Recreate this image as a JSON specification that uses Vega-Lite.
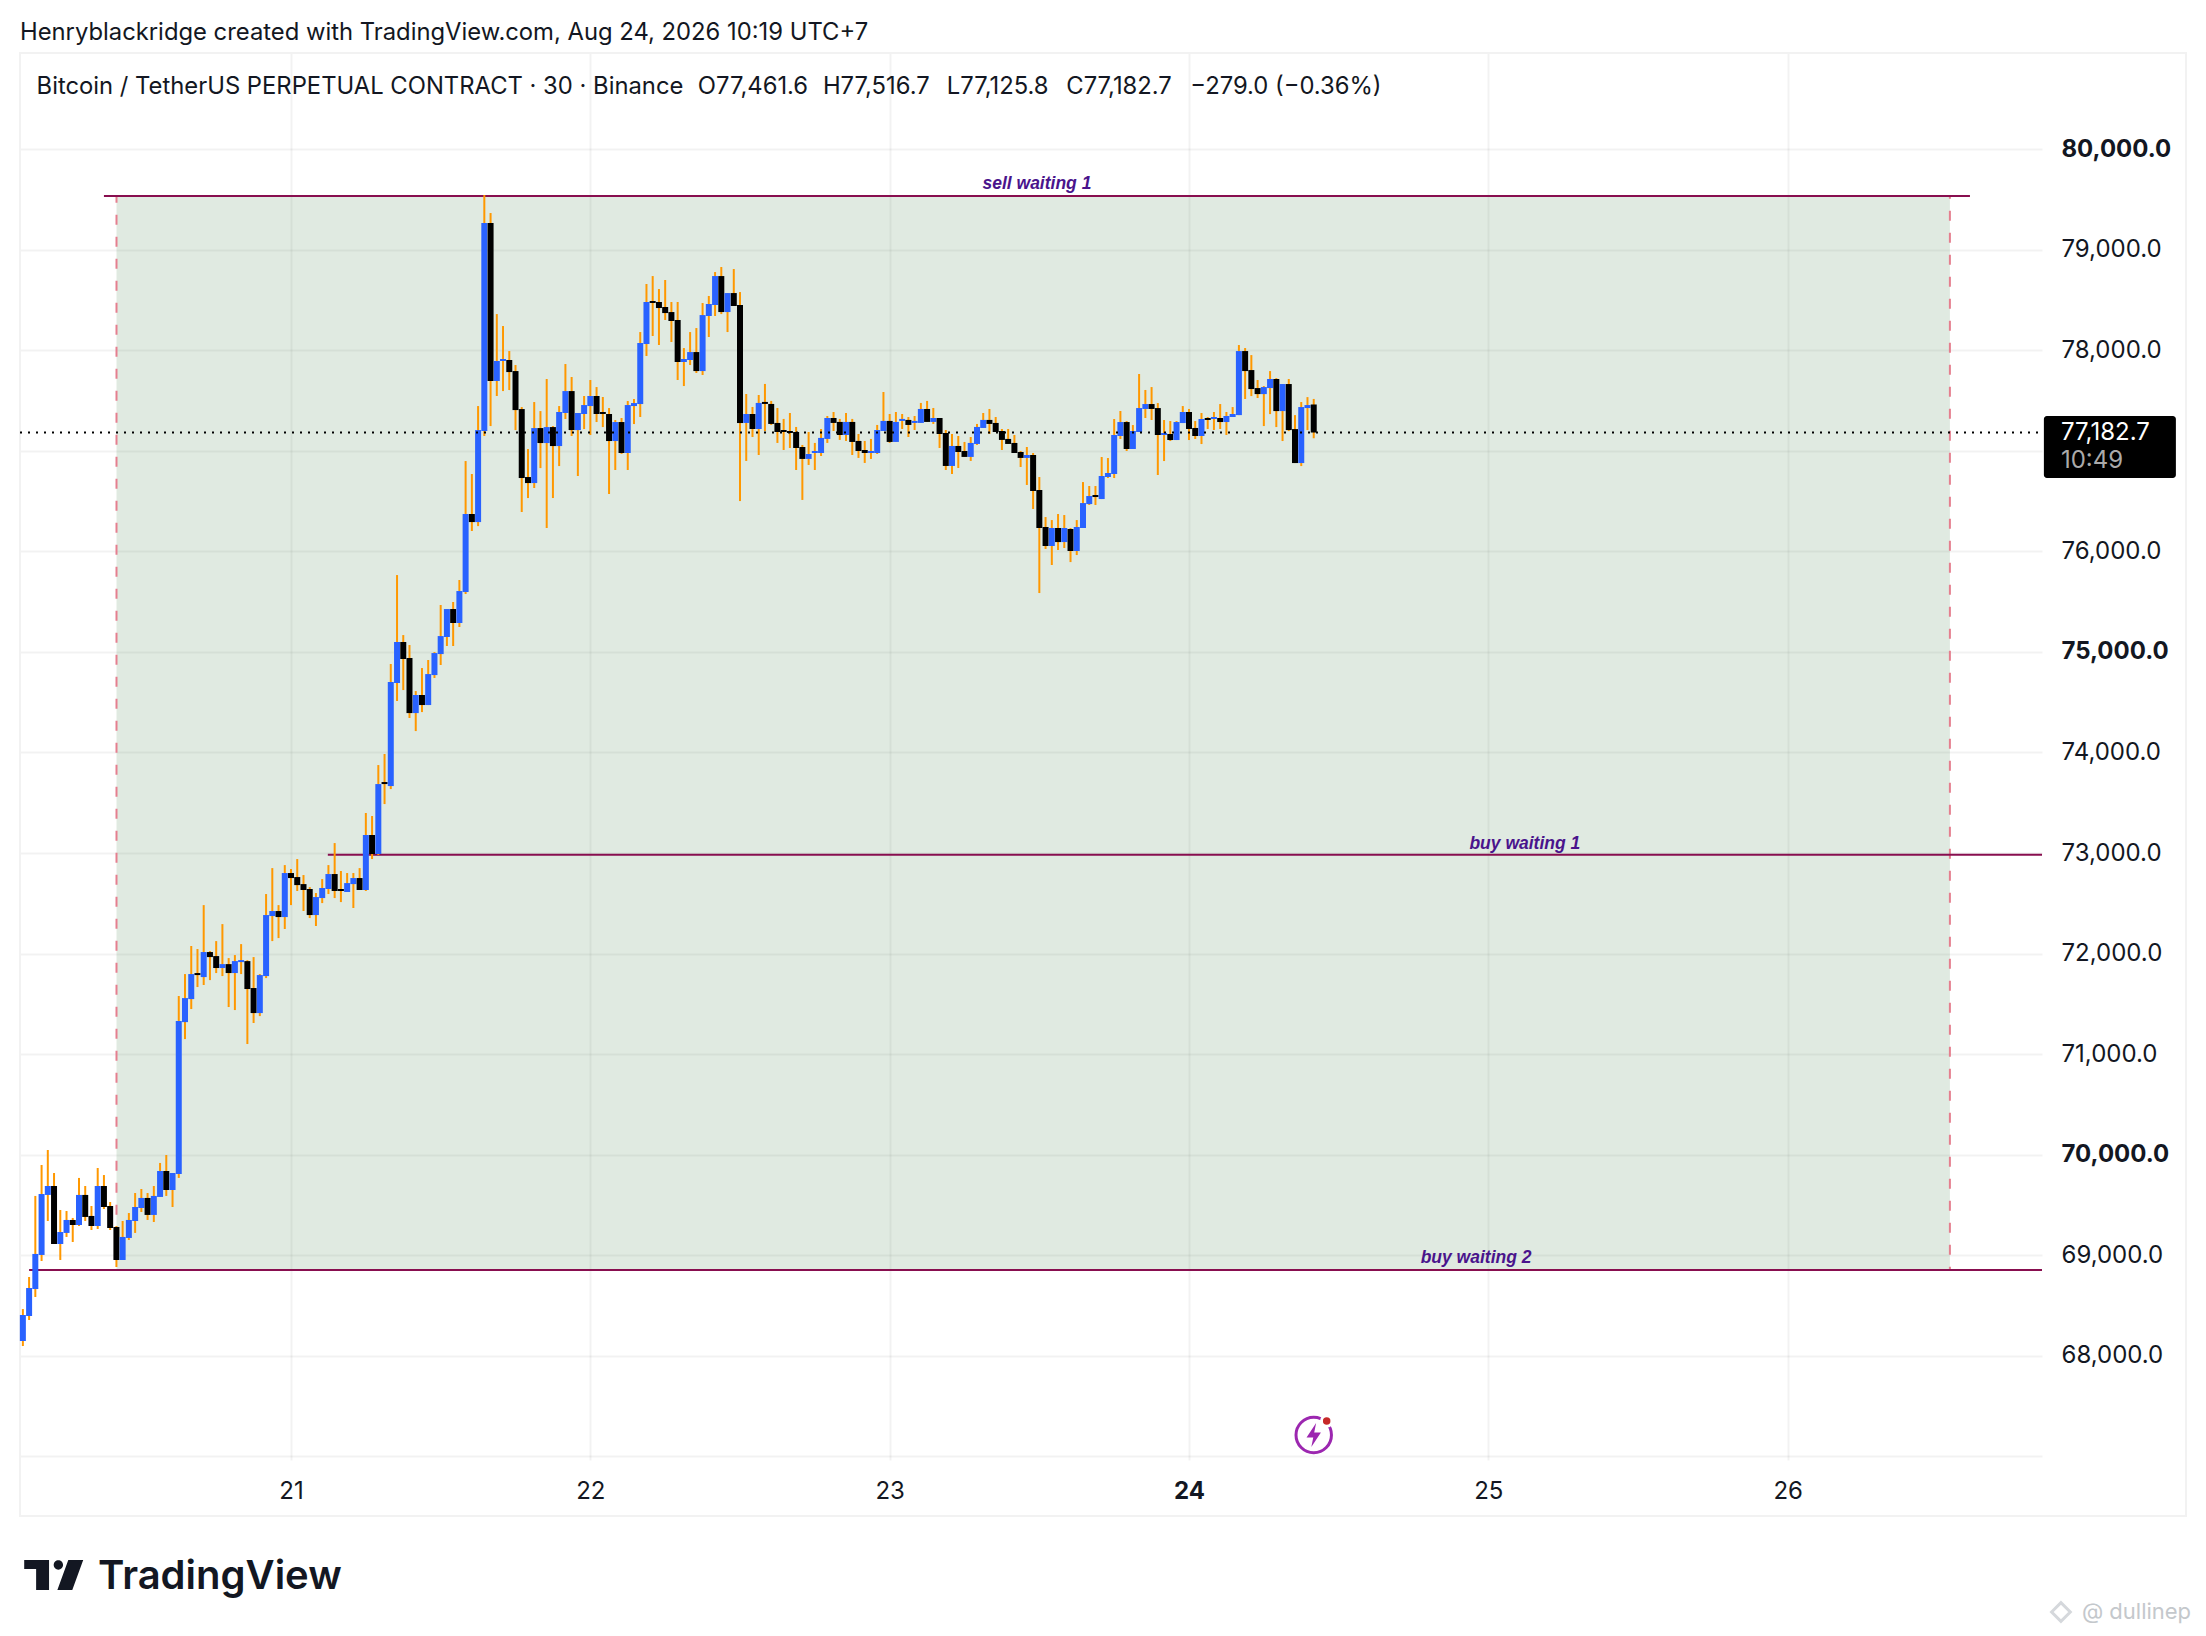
{"$schema":"https://vega.github.io/schema/vega-lite/v6.json","width":2022,"height":1407,"autosize":{"type":"none"},"padding":{"left":20,"top":53,"right":164,"bottom":176},"background":"#ffffff","view":{"stroke":null},
"config":{"axis":{"domain":false,"ticks":false,"gridColor":"#000000","gridOpacity":0.05,"gridWidth":2,"labelFont":"Inter","labelFontSize":24,"labelColor":"#131722","labelOverlap":false,"labelBound":false,"labelFlush":false},"text":{"font":"Inter","color":"#131722"}},
"datasets":{
"frame":[{"from":20.0946,"to":27.331,"top":80958,"bottom":66405}],
"zone":[{"from":20.417,"to":26.542,"top":79535,"bottom":68852}],
"levels":[{"name":"sell waiting 1","from":20.375,"to":26.609,"price":79535,"labelDay":23.492,"labelPrice":79655},{"name":"buy waiting 1","from":21.123,"to":26.8497,"price":72984,"labelDay":25.122,"labelPrice":73090},{"name":"buy waiting 2","from":20.125,"to":26.8497,"price":68852,"labelDay":24.959,"labelPrice":68972}],
"last":[{"from":20.0946,"to":26.8497,"price":77182.7}],
"tag":[{"from":26.856,"to":27.297,"top":77347,"bottom":76730}],
"header":[{"txt":"Henryblackridge created with TradingView.com, Aug 24, 2026 10:19 UTC+7","day":20.0946,"price":81157}],
"legend":[{"txt":"Bitcoin / TetherUS PERPETUAL CONTRACT · 30 · Binance","day":20.15,"price":80620},{"txt":"O77,461.6","day":22.359,"price":80620},{"txt":"H77,516.7","day":22.777,"price":80620},{"txt":"L77,125.8","day":23.191,"price":80620},{"txt":"C77,182.7","day":23.59,"price":80620},{"txt":"−279.0 (−0.36%)","day":24.004,"price":80620}],
"candles":[
{"day":20.1042,"open":68146,"high":68464,"low":68096,"close":68405},
{"day":20.125,"open":68395,"high":68783,"low":68355,"close":68673},
{"day":20.1458,"open":68663,"high":69589,"low":68584,"close":69012},
{"day":20.1667,"open":69002,"high":69897,"low":68942,"close":69608},
{"day":20.1875,"open":69599,"high":70046,"low":69340,"close":69688},
{"day":20.2083,"open":69688,"high":69817,"low":69111,"close":69111},
{"day":20.2292,"open":69111,"high":69449,"low":68952,"close":69230},
{"day":20.25,"open":69221,"high":69439,"low":69181,"close":69350},
{"day":20.2708,"open":69350,"high":69370,"low":69131,"close":69300},
{"day":20.2917,"open":69300,"high":69768,"low":69290,"close":69599},
{"day":20.3125,"open":69599,"high":69688,"low":69340,"close":69380},
{"day":20.3333,"open":69390,"high":69489,"low":69250,"close":69290},
{"day":20.3542,"open":69290,"high":69867,"low":69260,"close":69688},
{"day":20.375,"open":69688,"high":69797,"low":69459,"close":69479},
{"day":20.3958,"open":69489,"high":69529,"low":69250,"close":69270},
{"day":20.4167,"open":69280,"high":69290,"low":68882,"close":68952},
{"day":20.4375,"open":68952,"high":69340,"low":68952,"close":69181},
{"day":20.4583,"open":69171,"high":69419,"low":69151,"close":69350},
{"day":20.4792,"open":69340,"high":69618,"low":69221,"close":69479},
{"day":20.5,"open":69469,"high":69658,"low":69429,"close":69569},
{"day":20.5208,"open":69569,"high":69618,"low":69350,"close":69400},
{"day":20.5417,"open":69400,"high":69688,"low":69330,"close":69589},
{"day":20.5625,"open":69579,"high":69917,"low":69579,"close":69837},
{"day":20.5833,"open":69837,"high":69996,"low":69589,"close":69648},
{"day":20.6042,"open":69648,"high":69817,"low":69479,"close":69817},
{"day":20.625,"open":69807,"high":71578,"low":69768,"close":71329},
{"day":20.6458,"open":71318,"high":71796,"low":71149,"close":71557},
{"day":20.6667,"open":71547,"high":72075,"low":71448,"close":71796},
{"day":20.6875,"open":71806,"high":72045,"low":71667,"close":71786},
{"day":20.7083,"open":71766,"high":72482,"low":71687,"close":72015},
{"day":20.7292,"open":72015,"high":72025,"low":71736,"close":71965},
{"day":20.75,"open":71975,"high":72124,"low":71806,"close":71856},
{"day":20.7708,"open":71856,"high":72293,"low":71776,"close":71895},
{"day":20.7917,"open":71895,"high":71955,"low":71468,"close":71806},
{"day":20.8125,"open":71806,"high":71985,"low":71438,"close":71925},
{"day":20.8333,"open":71915,"high":72094,"low":71796,"close":71935},
{"day":20.8542,"open":71925,"high":71935,"low":71100,"close":71647},
{"day":20.875,"open":71657,"high":71965,"low":71309,"close":71408},
{"day":20.8958,"open":71408,"high":71796,"low":71378,"close":71786},
{"day":20.9167,"open":71776,"high":72592,"low":71756,"close":72383},
{"day":20.9375,"open":72373,"high":72850,"low":72124,"close":72423},
{"day":20.9583,"open":72423,"high":72482,"low":72154,"close":72363},
{"day":20.9792,"open":72363,"high":72880,"low":72244,"close":72801},
{"day":21.0,"open":72801,"high":72841,"low":72482,"close":72751},
{"day":21.0208,"open":72761,"high":72940,"low":72622,"close":72681},
{"day":21.0417,"open":72691,"high":72781,"low":72423,"close":72632},
{"day":21.0625,"open":72642,"high":72661,"low":72353,"close":72383},
{"day":21.0833,"open":72383,"high":72602,"low":72274,"close":72562},
{"day":21.1042,"open":72552,"high":72741,"low":72502,"close":72652},
{"day":21.125,"open":72642,"high":72880,"low":72592,"close":72791},
{"day":21.1458,"open":72791,"high":73099,"low":72552,"close":72622},
{"day":21.1667,"open":72642,"high":72821,"low":72512,"close":72622},
{"day":21.1875,"open":72612,"high":72801,"low":72612,"close":72701},
{"day":21.2083,"open":72691,"high":72801,"low":72453,"close":72751},
{"day":21.2292,"open":72751,"high":72850,"low":72632,"close":72632},
{"day":21.25,"open":72632,"high":73398,"low":72622,"close":73179},
{"day":21.2708,"open":73179,"high":73368,"low":72940,"close":72990},
{"day":21.2917,"open":72990,"high":73875,"low":72980,"close":73686},
{"day":21.3125,"open":73706,"high":73985,"low":73487,"close":73686},
{"day":21.3333,"open":73666,"high":74880,"low":73636,"close":74701},
{"day":21.3542,"open":74691,"high":75765,"low":74512,"close":75099},
{"day":21.375,"open":75099,"high":75168,"low":74621,"close":74930},
{"day":21.3958,"open":74940,"high":75069,"low":74343,"close":74392},
{"day":21.4167,"open":74392,"high":74611,"low":74213,"close":74572},
{"day":21.4375,"open":74572,"high":74840,"low":74402,"close":74472},
{"day":21.4583,"open":74472,"high":74920,"low":74472,"close":74780},
{"day":21.4792,"open":74770,"high":74999,"low":74741,"close":74989},
{"day":21.5,"open":74979,"high":75467,"low":74870,"close":75158},
{"day":21.5208,"open":75149,"high":75427,"low":75059,"close":75427},
{"day":21.5417,"open":75427,"high":75497,"low":75059,"close":75288},
{"day":21.5625,"open":75288,"high":75716,"low":75248,"close":75606},
{"day":21.5833,"open":75596,"high":76899,"low":75576,"close":76372},
{"day":21.6042,"open":76372,"high":76770,"low":76203,"close":76292},
{"day":21.625,"open":76292,"high":77446,"low":76252,"close":77207},
{"day":21.6458,"open":77198,"high":79545,"low":77148,"close":79267},
{"day":21.6667,"open":79267,"high":79366,"low":77247,"close":77695},
{"day":21.6875,"open":77695,"high":78361,"low":77546,"close":77894},
{"day":21.7083,"open":77894,"high":78242,"low":77595,"close":77914},
{"day":21.7292,"open":77904,"high":77993,"low":77605,"close":77784},
{"day":21.75,"open":77794,"high":77854,"low":77207,"close":77406},
{"day":21.7708,"open":77416,"high":77436,"low":76392,"close":76730},
{"day":21.7917,"open":76740,"high":77018,"low":76531,"close":76680},
{"day":21.8125,"open":76680,"high":77486,"low":76631,"close":77227},
{"day":21.8333,"open":77227,"high":77396,"low":76829,"close":77078},
{"day":21.8542,"open":77078,"high":77715,"low":76233,"close":77237},
{"day":21.875,"open":77237,"high":77247,"low":76531,"close":77048},
{"day":21.8958,"open":77048,"high":77446,"low":76849,"close":77387},
{"day":21.9167,"open":77377,"high":77864,"low":77317,"close":77595},
{"day":21.9375,"open":77595,"high":77735,"low":77148,"close":77207},
{"day":21.9583,"open":77207,"high":77377,"low":76750,"close":77377},
{"day":21.9792,"open":77367,"high":77546,"low":77217,"close":77456},
{"day":22.0,"open":77446,"high":77705,"low":77158,"close":77546},
{"day":22.0208,"open":77546,"high":77635,"low":77287,"close":77367},
{"day":22.0417,"open":77387,"high":77536,"low":77237,"close":77367},
{"day":22.0625,"open":77367,"high":77426,"low":76571,"close":77098},
{"day":22.0833,"open":77098,"high":77307,"low":76810,"close":77287},
{"day":22.1042,"open":77287,"high":77327,"low":76969,"close":76979},
{"day":22.125,"open":76979,"high":77496,"low":76810,"close":77456},
{"day":22.1458,"open":77446,"high":77516,"low":77267,"close":77476},
{"day":22.1667,"open":77466,"high":78182,"low":77337,"close":78073},
{"day":22.1875,"open":78063,"high":78660,"low":77944,"close":78481},
{"day":22.2083,"open":78491,"high":78739,"low":78143,"close":78471},
{"day":22.2292,"open":78481,"high":78610,"low":78053,"close":78421},
{"day":22.25,"open":78431,"high":78700,"low":78302,"close":78371},
{"day":22.2708,"open":78381,"high":78481,"low":78083,"close":78292},
{"day":22.2917,"open":78302,"high":78481,"low":77705,"close":77884},
{"day":22.3125,"open":77884,"high":78023,"low":77645,"close":77914},
{"day":22.3333,"open":77904,"high":78182,"low":77854,"close":77983},
{"day":22.3542,"open":77983,"high":78222,"low":77775,"close":77794},
{"day":22.375,"open":77794,"high":78471,"low":77755,"close":78351},
{"day":22.3958,"open":78342,"high":78541,"low":78133,"close":78461},
{"day":22.4167,"open":78451,"high":78779,"low":78342,"close":78739},
{"day":22.4375,"open":78739,"high":78829,"low":78361,"close":78381},
{"day":22.4583,"open":78381,"high":78570,"low":78182,"close":78570},
{"day":22.4792,"open":78570,"high":78809,"low":78441,"close":78441},
{"day":22.5,"open":78451,"high":78580,"low":76501,"close":77277},
{"day":22.5208,"open":77278,"high":77566,"low":76900,"close":77367},
{"day":22.5417,"open":77367,"high":77437,"low":77138,"close":77218},
{"day":22.5625,"open":77218,"high":77556,"low":76959,"close":77477},
{"day":22.5833,"open":77487,"high":77666,"low":77198,"close":77467},
{"day":22.6042,"open":77467,"high":77497,"low":77258,"close":77268},
{"day":22.625,"open":77278,"high":77427,"low":77079,"close":77188},
{"day":22.6458,"open":77208,"high":77318,"low":77009,"close":77188},
{"day":22.6667,"open":77198,"high":77377,"low":77029,"close":77178},
{"day":22.6875,"open":77188,"high":77238,"low":76810,"close":77029},
{"day":22.7083,"open":77039,"high":77059,"low":76512,"close":76920},
{"day":22.7292,"open":76920,"high":77188,"low":76860,"close":76969},
{"day":22.75,"open":76979,"high":77079,"low":76810,"close":76999},
{"day":22.7708,"open":76979,"high":77218,"low":76949,"close":77129},
{"day":22.7917,"open":77119,"high":77347,"low":77079,"close":77327},
{"day":22.8125,"open":77327,"high":77387,"low":77198,"close":77278},
{"day":22.8333,"open":77288,"high":77318,"low":77109,"close":77158},
{"day":22.8542,"open":77158,"high":77377,"low":77099,"close":77288},
{"day":22.875,"open":77288,"high":77318,"low":76959,"close":77089},
{"day":22.8958,"open":77099,"high":77168,"low":76930,"close":76999},
{"day":22.9167,"open":77009,"high":77099,"low":76880,"close":76979},
{"day":22.9375,"open":76979,"high":77119,"low":76920,"close":76999},
{"day":22.9583,"open":76979,"high":77258,"low":76969,"close":77208},
{"day":22.9792,"open":77198,"high":77586,"low":77198,"close":77298},
{"day":23.0,"open":77298,"high":77367,"low":77079,"close":77089},
{"day":23.0208,"open":77089,"high":77387,"low":77089,"close":77288},
{"day":23.0417,"open":77298,"high":77367,"low":77218,"close":77318},
{"day":23.0625,"open":77308,"high":77337,"low":77138,"close":77258},
{"day":23.0833,"open":77278,"high":77347,"low":77208,"close":77298},
{"day":23.1042,"open":77278,"high":77477,"low":77278,"close":77417},
{"day":23.125,"open":77417,"high":77497,"low":77288,"close":77288},
{"day":23.1458,"open":77288,"high":77427,"low":77268,"close":77327},
{"day":23.1667,"open":77327,"high":77327,"low":77029,"close":77168},
{"day":23.1875,"open":77178,"high":77208,"low":76810,"close":76850},
{"day":23.2083,"open":76850,"high":77168,"low":76770,"close":77049},
{"day":23.2292,"open":77049,"high":77148,"low":76830,"close":76989},
{"day":23.25,"open":76999,"high":77089,"low":76940,"close":76940},
{"day":23.2708,"open":76940,"high":77138,"low":76900,"close":77079},
{"day":23.2917,"open":77069,"high":77268,"low":77059,"close":77238},
{"day":23.3125,"open":77228,"high":77377,"low":77228,"close":77308},
{"day":23.3333,"open":77308,"high":77417,"low":77168,"close":77268},
{"day":23.3542,"open":77278,"high":77337,"low":77188,"close":77188},
{"day":23.375,"open":77198,"high":77218,"low":77009,"close":77109},
{"day":23.3958,"open":77119,"high":77218,"low":77069,"close":77069},
{"day":23.4167,"open":77079,"high":77158,"low":76979,"close":76979},
{"day":23.4375,"open":76989,"high":76999,"low":76840,"close":76930},
{"day":23.4583,"open":76930,"high":77039,"low":76661,"close":76959},
{"day":23.4792,"open":76959,"high":76979,"low":76422,"close":76601},
{"day":23.5,"open":76611,"high":76740,"low":75586,"close":76233},
{"day":23.5208,"open":76243,"high":76342,"low":76024,"close":76054},
{"day":23.5417,"open":76054,"high":76312,"low":75865,"close":76233},
{"day":23.5625,"open":76233,"high":76372,"low":76014,"close":76093},
{"day":23.5833,"open":76093,"high":76362,"low":76034,"close":76233},
{"day":23.6042,"open":76223,"high":76233,"low":75894,"close":76004},
{"day":23.625,"open":76004,"high":76312,"low":75964,"close":76243},
{"day":23.6458,"open":76233,"high":76690,"low":76233,"close":76481},
{"day":23.6667,"open":76471,"high":76651,"low":76462,"close":76551},
{"day":23.6875,"open":76561,"high":76651,"low":76462,"close":76541},
{"day":23.7083,"open":76521,"high":76939,"low":76521,"close":76750},
{"day":23.7292,"open":76740,"high":76929,"low":76730,"close":76780},
{"day":23.75,"open":76770,"high":77317,"low":76730,"close":77158},
{"day":23.7708,"open":77148,"high":77397,"low":77118,"close":77287},
{"day":23.7917,"open":77287,"high":77297,"low":76999,"close":77019},
{"day":23.8125,"open":77019,"high":77257,"low":77019,"close":77198},
{"day":23.8333,"open":77188,"high":77765,"low":77188,"close":77426},
{"day":23.8542,"open":77417,"high":77606,"low":77327,"close":77466},
{"day":23.875,"open":77466,"high":77635,"low":77307,"close":77417},
{"day":23.8958,"open":77426,"high":77476,"low":76760,"close":77158},
{"day":23.9167,"open":77158,"high":77307,"low":76899,"close":77178},
{"day":23.9375,"open":77168,"high":77297,"low":77098,"close":77108},
{"day":23.9583,"open":77108,"high":77297,"low":77108,"close":77287},
{"day":23.9792,"open":77277,"high":77446,"low":77277,"close":77387},
{"day":24.0,"open":77387,"high":77417,"low":77108,"close":77218},
{"day":24.0208,"open":77228,"high":77297,"low":77118,"close":77148},
{"day":24.0417,"open":77148,"high":77377,"low":77068,"close":77317},
{"day":24.0625,"open":77327,"high":77337,"low":77218,"close":77307},
{"day":24.0833,"open":77317,"high":77387,"low":77208,"close":77337},
{"day":24.1042,"open":77327,"high":77466,"low":77218,"close":77287},
{"day":24.125,"open":77287,"high":77387,"low":77158,"close":77347},
{"day":24.1458,"open":77337,"high":77436,"low":77337,"close":77367},
{"day":24.1667,"open":77356,"high":78053,"low":77356,"close":77993},
{"day":24.1875,"open":77993,"high":78023,"low":77516,"close":77794},
{"day":24.2083,"open":77804,"high":77953,"low":77545,"close":77615},
{"day":24.2292,"open":77625,"high":77705,"low":77526,"close":77565},
{"day":24.25,"open":77565,"high":77645,"low":77247,"close":77635},
{"day":24.2708,"open":77625,"high":77794,"low":77366,"close":77715},
{"day":24.2917,"open":77715,"high":77724,"low":77237,"close":77396},
{"day":24.3125,"open":77396,"high":77665,"low":77098,"close":77665},
{"day":24.3333,"open":77665,"high":77715,"low":77197,"close":77207},
{"day":24.3542,"open":77217,"high":77356,"low":76879,"close":76879},
{"day":24.375,"open":76879,"high":77486,"low":76849,"close":77436},
{"day":24.3958,"open":77426,"high":77535,"low":77207,"close":77456},
{"day":24.4167,"open":77461.6,"high":77516.7,"low":77125.8,"close":77182.7}
]},
"layer":[
{"data":{"name":"zone"},"mark":{"type":"rect","fill":"rgb(100,150,105)","fillOpacity":0.2,"stroke":"#e57f8f","strokeWidth":2,"strokeDash":[10,12],"clip":false},
 "encoding":{"x":{"field":"from","type":"quantitative","title":null,"scale":{"domain":[20.0946,26.8497],"nice":false,"zero":false,"padding":0},"axis":{"orient":"bottom","grid":true,"values":[21,22,23,24,25,26],"format":"d","labelPadding":19,"labelFontWeight":{"expr":"datum.value===24?'bold':'normal'"}}},"x2":{"field":"to"},
  "y":{"field":"top","type":"quantitative","title":null,"scale":{"domain":[66962.4,80957.8],"nice":false,"zero":false},"axis":{"orient":"right","grid":true,"values":[67000,68000,69000,70000,71000,72000,73000,74000,75000,76000,77000,78000,79000,80000],"labelPadding":19,"labelExpr":"(datum.value<68000||datum.value===77000)?'':format(datum.value,',.1f')","labelFontWeight":{"expr":"datum.value%5000===0?'bold':'normal'"}}},"y2":{"field":"bottom"}}},
{"data":{"name":"frame"},"mark":{"type":"rect","fillOpacity":0,"stroke":"#f2f2f2","strokeWidth":2,"clip":false},
 "encoding":{"x":{"field":"from","type":"quantitative","title":null,"scale":{"domain":[20.0946,26.8497],"nice":false,"zero":false,"padding":0}},"x2":{"field":"to"},"y":{"field":"top","type":"quantitative","title":null,"scale":{"domain":[66962.4,80957.8],"nice":false,"zero":false}},"y2":{"field":"bottom"}}},
{"data":{"name":"levels"},"mark":{"type":"rule","color":"#880e4f","strokeWidth":2},
 "encoding":{"x":{"field":"from","type":"quantitative","title":null,"scale":{"domain":[20.0946,26.8497],"nice":false,"zero":false,"padding":0}},"x2":{"field":"to"},"y":{"field":"price","type":"quantitative","title":null,"scale":{"domain":[66962.4,80957.8],"nice":false,"zero":false}}}},
{"data":{"name":"levels"},"mark":{"type":"text","font":"Liberation Sans","fontWeight":"bold","fontStyle":"italic","fontSize":17.5,"color":"#4a148c","align":"center","baseline":"middle"},
 "encoding":{"x":{"field":"labelDay","type":"quantitative","title":null,"scale":{"domain":[20.0946,26.8497],"nice":false,"zero":false,"padding":0}},"y":{"field":"labelPrice","type":"quantitative","title":null,"scale":{"domain":[66962.4,80957.8],"nice":false,"zero":false}},"text":{"field":"name"}}},
{"data":{"name":"candles"},"mark":{"type":"rule","color":"#ff9800","strokeWidth":2},
 "encoding":{"x":{"field":"day","type":"quantitative","title":null,"scale":{"domain":[20.0946,26.8497],"nice":false,"zero":false,"padding":0}},"y":{"field":"high","type":"quantitative","title":null,"scale":{"domain":[66962.4,80957.8],"nice":false,"zero":false}},"y2":{"field":"low"}}},
{"data":{"name":"candles"},"mark":{"type":"bar","orient":"vertical","width":6},
 "encoding":{"x":{"field":"day","type":"quantitative","title":null,"scale":{"domain":[20.0946,26.8497],"nice":false,"zero":false,"padding":0}},"y":{"field":"open","type":"quantitative","title":null,"scale":{"domain":[66962.4,80957.8],"nice":false,"zero":false}},"y2":{"field":"close"},"color":{"condition":{"test":"datum.close>=datum.open","value":"#2962ff"},"value":"#000000"}}},
{"data":{"name":"last"},"mark":{"type":"rule","color":"#000000","strokeWidth":2,"strokeDash":[2,6]},
 "encoding":{"x":{"field":"from","type":"quantitative","title":null,"scale":{"domain":[20.0946,26.8497],"nice":false,"zero":false,"padding":0}},"x2":{"field":"to"},"y":{"field":"price","type":"quantitative","title":null,"scale":{"domain":[66962.4,80957.8],"nice":false,"zero":false}}}},
{"data":{"name":"tag"},"mark":{"type":"rect","fill":"#000000","cornerRadius":3,"clip":false},
 "encoding":{"x":{"field":"from","type":"quantitative","title":null,"scale":{"domain":[20.0946,26.8497],"nice":false,"zero":false,"padding":0}},"x2":{"field":"to"},"y":{"field":"top","type":"quantitative","title":null,"scale":{"domain":[66962.4,80957.8],"nice":false,"zero":false}},"y2":{"field":"bottom"}}},
{"data":{"values":[{"txt":"77,182.7","day":26.913,"price":77178,"col":"#ffffff"},{"txt":"10:49","day":26.913,"price":76899,"col":"#aaaaaa"}]},"mark":{"type":"text","fontSize":24,"align":"left","baseline":"middle","clip":false},
 "encoding":{"x":{"field":"day","type":"quantitative","title":null,"scale":{"domain":[20.0946,26.8497],"nice":false,"zero":false,"padding":0}},"y":{"field":"price","type":"quantitative","title":null,"scale":{"domain":[66962.4,80957.8],"nice":false,"zero":false}},"text":{"field":"txt"},"color":{"field":"col","type":"nominal","scale":null}}},
{"data":{"name":"header"},"mark":{"type":"text","fontSize":23.8,"align":"left","baseline":"middle"},
 "encoding":{"x":{"field":"day","type":"quantitative","title":null,"scale":{"domain":[20.0946,26.8497],"nice":false,"zero":false,"padding":0}},"y":{"field":"price","type":"quantitative","title":null,"scale":{"domain":[66962.4,80957.8],"nice":false,"zero":false}},"text":{"field":"txt"}}},
{"data":{"name":"legend"},"mark":{"type":"text","fontSize":23.8,"align":"left","baseline":"middle"},
 "encoding":{"x":{"field":"day","type":"quantitative","title":null,"scale":{"domain":[20.0946,26.8497],"nice":false,"zero":false,"padding":0}},"y":{"field":"price","type":"quantitative","title":null,"scale":{"domain":[66962.4,80957.8],"nice":false,"zero":false}},"text":{"field":"txt"}}},
{"data":{"values":[{"day":24.4167,"price":67211}]},"mark":{"type":"point","shape":"circle","size":1257,"filled":false,"stroke":"#9c27b0","strokeWidth":3,"opacity":1},
 "encoding":{"x":{"field":"day","type":"quantitative","title":null,"scale":{"domain":[20.0946,26.8497],"nice":false,"zero":false,"padding":0}},"y":{"field":"price","type":"quantitative","title":null,"scale":{"domain":[66962.4,80957.8],"nice":false,"zero":false}}}},
{"data":{"values":[{"day":24.4167,"price":67211}]},"mark":{"type":"point","shape":"M0.1,-0.5L-0.3,0.1L-0.02,0.1L-0.1,0.5L0.3,-0.1L0.02,-0.1Z","size":2304,"filled":true,"fill":"#9c27b0","stroke":null,"opacity":1},
 "encoding":{"x":{"field":"day","type":"quantitative","title":null,"scale":{"domain":[20.0946,26.8497],"nice":false,"zero":false,"padding":0}},"y":{"field":"price","type":"quantitative","title":null,"scale":{"domain":[66962.4,80957.8],"nice":false,"zero":false}}}},
{"data":{"values":[{"day":24.46,"price":67350}]},"mark":{"type":"point","shape":"circle","size":110,"filled":true,"fill":"#c62828","stroke":"#ffffff","strokeWidth":3,"opacity":1},
 "encoding":{"x":{"field":"day","type":"quantitative","title":null,"scale":{"domain":[20.0946,26.8497],"nice":false,"zero":false,"padding":0}},"y":{"field":"price","type":"quantitative","title":null,"scale":{"domain":[66962.4,80957.8],"nice":false,"zero":false}}}},
{"data":{"values":[{"day":20.2072,"price":65819}]},"mark":{"type":"point","shape":"M-0.5,-0.253L-0.079,-0.253L-0.079,0.253L-0.298,0.253L-0.298,-0.101L-0.5,-0.101ZM0,-0.169a0.079,0.079 0 1,0 0.158,0a0.079,0.079 0 1,0 -0.158,0ZM0.247,-0.253L0.5,-0.253L0.315,0.253L0.062,0.253Z","size":13924,"filled":true,"fill":"#131722","stroke":null,"opacity":1,"clip":false},
 "encoding":{"x":{"field":"day","type":"quantitative","title":null,"scale":{"domain":[20.0946,26.8497],"nice":false,"zero":false,"padding":0}},"y":{"field":"price","type":"quantitative","title":null,"scale":{"domain":[66962.4,80957.8],"nice":false,"zero":false}}}},
{"data":{"values":[{"txt":"TradingView","day":20.3552,"price":65800}]},"mark":{"type":"text","fontSize":40,"fontWeight":600,"align":"left","baseline":"middle"},
 "encoding":{"x":{"field":"day","type":"quantitative","title":null,"scale":{"domain":[20.0946,26.8497],"nice":false,"zero":false,"padding":0}},"y":{"field":"price","type":"quantitative","title":null,"scale":{"domain":[66962.4,80957.8],"nice":false,"zero":false}},"text":{"field":"txt"}}},
{"data":{"values":[{"txt":"@ dullinep","day":26.983,"price":65450}]},"mark":{"type":"text","fontSize":22,"color":"#c4c8cc","align":"left","baseline":"middle"},
 "encoding":{"x":{"field":"day","type":"quantitative","title":null,"scale":{"domain":[20.0946,26.8497],"nice":false,"zero":false,"padding":0}},"y":{"field":"price","type":"quantitative","title":null,"scale":{"domain":[66962.4,80957.8],"nice":false,"zero":false}},"text":{"field":"txt"}}},
{"data":{"values":[{"day":26.913,"price":65450}]},"mark":{"type":"point","shape":"diamond","size":350,"filled":false,"stroke":"#d5d8dc","strokeWidth":3,"opacity":1},
 "encoding":{"x":{"field":"day","type":"quantitative","title":null,"scale":{"domain":[20.0946,26.8497],"nice":false,"zero":false,"padding":0}},"y":{"field":"price","type":"quantitative","title":null,"scale":{"domain":[66962.4,80957.8],"nice":false,"zero":false}}}}
]}
